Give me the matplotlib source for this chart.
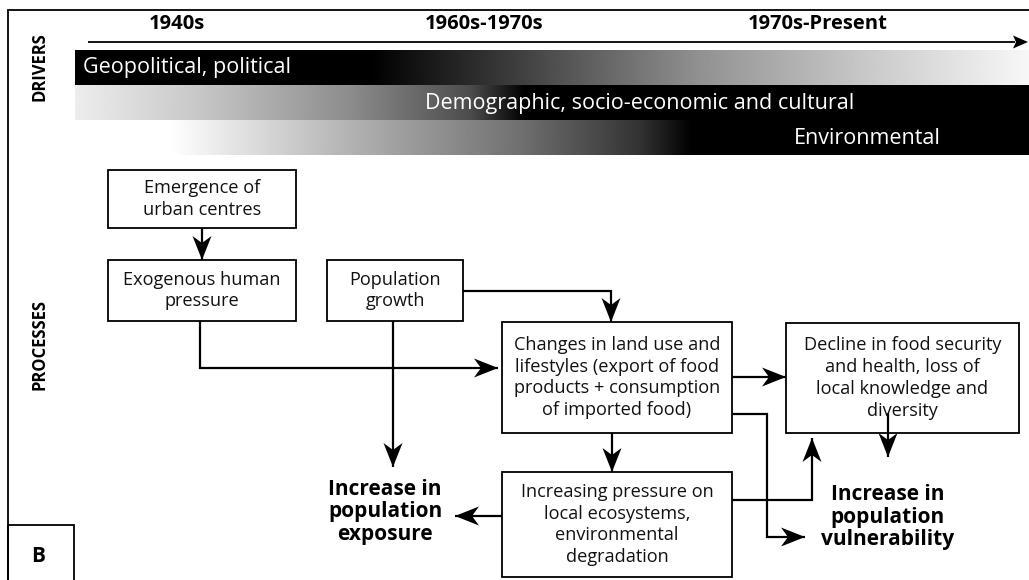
import matplotlib.pyplot as plt
import numpy as np
from matplotlib.patches import Rectangle, Polygon

plt.rcParams['font.family'] = ['Open Sans', 'DejaVu Sans']

# timeline labels and driver bands
periods = ["1940s", "1960s-1970s", "1970s-Present"]
drivers = ["Geopolitical, political",
           "Demographic, socio-economic and cultural",
           "Environmental"]
# gray level (0 black, 1 white) along each band: (x, level)
band_stops = [
    [(75, 0.0), (370, 0.0), (520, 0.25), (700, 0.57), (860, 0.78), (1029, 0.97)],
    [(75, 0.93), (200, 0.78), (350, 0.55), (470, 0.3), (525, 0.0), (1029, 0.0)],
    [(170, 1.0), (350, 0.7), (520, 0.44), (640, 0.2), (693, 0.0), (1029, 0.0)],
]

# process boxes
box_labels = {
    "urban": "Emergence of\nurban centres",
    "exo": "Exogenous human\npressure",
    "pop": "Population\ngrowth",
    "land": "Changes in land use and\nlifestyles (export of food\nproducts + consumption\nof imported food)",
    "food": "Decline in food security\nand health, loss of\nlocal knowledge and\ndiversity",
    "eco": "Increasing pressure on\nlocal ecosystems,\nenvironmental\ndegradation",
}
outcomes = ["Increase in\npopulation\nexposure", "Increase in\npopulation\nvulnerability"]

W, H = 1029, 580
fig = plt.figure(figsize=(W / 100, H / 100), dpi=100)
ax = fig.add_axes([0, 0, 1, 1])
ax.set_xlim(0, W)
ax.set_ylim(H, 0)
ax.axis('off')

LW = 1.6


def line(xs, ys, lw=LW):
    ax.plot(xs, ys, color='black', lw=lw, solid_capstyle='butt', solid_joinstyle='miter')


def head(x, y, d, length=24, width=19, notch=7):
    # stealth-like arrow head, tip at (x, y), pointing in direction d
    dx, dy = {'r': (1, 0), 'l': (-1, 0), 'd': (0, 1), 'u': (0, -1)}[d]
    px, py = -dy, dx
    pts = [(x, y),
           (x - dx * length + px * width / 2, y - dy * length + py * width / 2),
           (x - dx * (length - notch), y - dy * (length - notch)),
           (x - dx * length - px * width / 2, y - dy * length - py * width / 2)]
    ax.add_patch(Polygon(pts, closed=True, color='black', lw=0))


def arrow(xs, ys, d, **kw):
    line(xs[:-1] + [xs[-1]], ys)
    head(xs[-1], ys[-1], d, **kw)


def box(key, x0, y0, x1, y1, size=13.1):
    ax.add_patch(Rectangle((x0, y0), x1 - x0, y1 - y0, fill=False, ec='black', lw=1.3))
    ax.text((x0 + x1) / 2, (y0 + y1) / 2, box_labels[key], ha='center', va='center',
            fontsize=size, linespacing=1.28, color='#111111')


# outer frame
line([8, 8, W], [H, 10, 10], lw=1.3)

# side headings
ax.text(40, 67, "DRIVERS", rotation=90, ha='center', va='center', fontsize=12, fontweight='bold')
ax.text(40, 344, "PROCESSES", rotation=90, ha='center', va='center', fontsize=12, fontweight='bold')

# timeline
for lab, xc in zip(periods, [177, 484, 818]):
    ax.text(xc, 24, lab, ha='center', va='center', fontsize=14.5, fontweight='bold')
line([88, 1015], [42, 42], lw=1.3)
head(1028, 42, 'r', length=15, width=13, notch=3)

# driver bands as gradients
band_y = [(50, 85), (85, 120), (120, 155)]
for stops, (y0, y1) in zip(band_stops, band_y):
    xs = np.arange(stops[0][0], stops[-1][0] + 1)
    sx, sv = zip(*stops)
    g = np.interp(xs, sx, sv)
    ax.imshow(g[None, :], cmap='gray', vmin=0, vmax=1, aspect='auto',
              extent=(xs[0], xs[-1], y1, y0), interpolation='bilinear')
ax.set_xlim(0, W)
ax.set_ylim(H, 0)
ax.text(83, 68, drivers[0], ha='left', va='center', color='white', fontsize=15.5)
ax.text(640, 103, drivers[1], ha='center', va='center', color='white', fontsize=15.5)
ax.text(867, 138, drivers[2], ha='center', va='center', color='white', fontsize=15.5)

# process boxes
box("urban", 108, 170, 296, 228)
box("exo", 108, 260, 296, 321)
box("pop", 327, 260, 463, 321)
box("land", 502, 322, 732, 433)
box("food", 786, 323, 1019, 433)
box("eco", 502, 472, 732, 577)

# connectors
arrow([202, 202], [228, 260], 'd')
arrow([463, 611, 611], [291, 291, 322], 'd')
arrow([200, 200, 498], [321, 368, 368], 'r')
arrow([393, 393], [321, 467], 'd')
arrow([502, 455], [516, 516], 'l')
arrow([612, 612], [433, 472], 'd')
arrow([732, 786], [377, 377], 'r')
arrow([732, 767, 767, 805], [414, 414, 537, 537], 'r')
arrow([732, 812, 812], [500, 500, 438], 'u')
arrow([888, 888], [413, 457], 'd')

# outcomes
ax.text(385, 512, outcomes[0], ha='center', va='center', fontsize=15,
        fontweight='bold', linespacing=1.12)
ax.text(888, 517, outcomes[1], ha='center', va='center', fontsize=15,
        fontweight='bold', linespacing=1.12)

# panel letter
ax.add_patch(Rectangle((8, 525), 66, 60, fill=False, ec='black', lw=1.3))
ax.text(38, 557, "B", ha='center', va='center', fontsize=15, fontweight='bold')

fig.savefig('out.png', dpi=100)
